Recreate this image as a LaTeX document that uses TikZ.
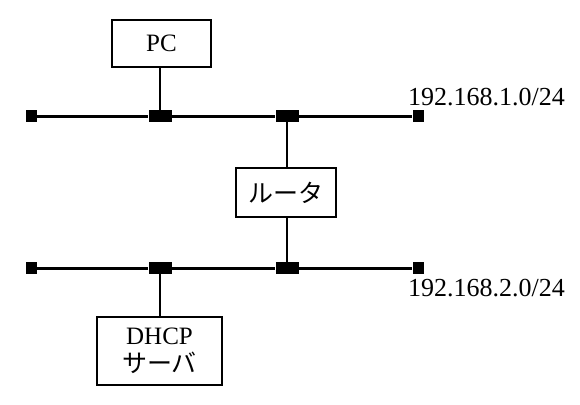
\documentclass[tikz,border=0pt]{standalone}
\usepackage{fontspec}
\setmainfont{Liberation Serif}
\newfontfamily\jpfont{Noto Sans CJK JP}
\begin{document}
\begin{tikzpicture}[x=1pt,y=-1pt,
  box/.style={draw,line width=1.8pt,inner sep=0pt,font=\fontsize{25}{31}\selectfont},
  tapbox/.style={fill=black,inner sep=0pt,minimum width=23pt,minimum height=12pt},
  endbox/.style={fill=black,inner sep=0pt,minimum width=11pt,minimum height=12pt},
  bus/.style={line width=3pt},
  link/.style={line width=1.8pt},
  lbl/.style={inner sep=0pt,font=\fontsize{26}{30}\selectfont}]
\useasboundingbox (0,0) rectangle (580,404);
% top bus
\node[endbox] (e1) at (31,116) {};
\node[tapbox] (t1) at (160,116) {};
\node[tapbox] (t2) at (287,116) {};
\node[endbox] (e2) at (418,116) {};
\draw[bus] (e1) -- (t1) -- (t2) -- (e2);
% bottom bus
\node[endbox] (e3) at (31,268) {};
\node[tapbox] (t3) at (160,268) {};
\node[tapbox] (t4) at (287,268) {};
\node[endbox] (e4) at (418,268) {};
\draw[bus] (e3) -- (t3) -- (t4) -- (e4);
% boxes
\node[box,minimum width=99pt,minimum height=47pt] (pc) at (161.5,43.5) {PC};
\node[box,minimum width=100pt,minimum height=49pt] (rt) at (286,192.5) {\jpfont ルータ};
\node[box,minimum width=125pt,minimum height=68pt,align=center] (dh) at (159.5,351) {DHCP\\[-3pt]{\jpfont サーバ}};
\draw[link] (pc.south -| t1) -- (t1);
\draw[link] (t2) -- (rt.north -| t2);
\draw[link] (rt.south -| t4) -- (t4);
\draw[link] (t3) -- (dh.north -| t3);
% labels
\node[lbl,anchor=base west] (l1) at (408,105) {192.168.1.0/24};
\node[lbl,anchor=base west] (l2) at (408,296) {192.168.2.0/24};
\end{tikzpicture}
\end{document}
